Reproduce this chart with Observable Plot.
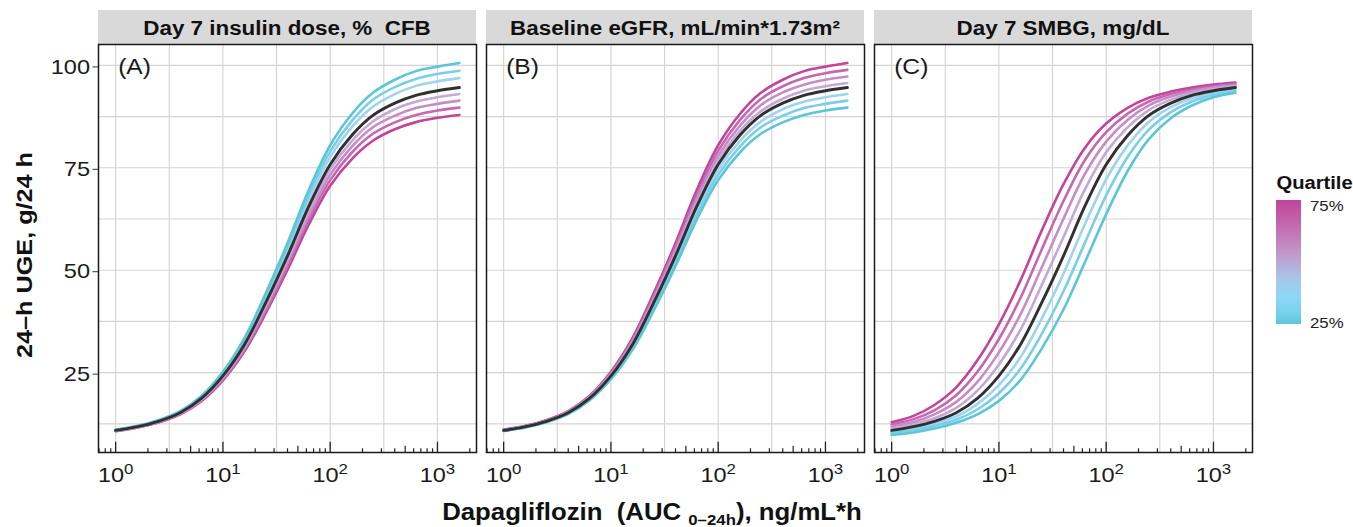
<!DOCTYPE html>
<html><head><meta charset="utf-8">
<script src="https://cdn.jsdelivr.net/npm/d3@7"></script>
<script src="https://cdn.jsdelivr.net/npm/@observablehq/plot@0.6"></script>
<style>
html,body{margin:0;padding:0;background:#fff;}
#chart{position:relative;width:1353px;height:527px;overflow:hidden;}
</style></head><body><div id="chart"></div>
<script>
// ---------------- data ----------------
const panels = ["A", "B", "C"];
const panelTitles = ["Day 7 insulin dose, %  CFB", "Baseline eGFR, mL/min*1.73m\u00B2", "Day 7 SMBG, mg/dL"];
const panelLetters = ["(A)", "(B)", "(C)"];

const auc = [1, 1.6, 2.5, 4, 6.3, 10, 16, 25, 40, 63, 100, 160, 250, 400, 630, 1000, 1600];

const median = [10.9, 11.8, 13.1, 15.2, 18.7, 24.2, 32.0, 42.0, 53.5, 65.5, 75.8, 83.0, 87.8, 90.8, 92.7, 93.8, 94.6];

// Panel A: insulin dose
const A_m4 = [10.7, 11.6, 12.8, 14.8, 18.0, 23.1, 30.3, 39.45, 50.1, 61.1, 70.6, 77.2, 81.6, 84.4, 86.15, 87.2, 87.9];
const A_m3 = [10.75, 11.6, 12.9, 14.9, 18.2, 23.4, 30.7, 40.1, 51.0, 62.3, 72.0, 78.8, 83.3, 86.1, 87.9, 89.0, 89.7];
const A_m2 = [10.8, 11.7, 13.0, 15.0, 18.4, 23.7, 31.2, 40.8, 51.9, 63.4, 73.3, 80.25, 84.9, 87.7, 89.6, 90.6, 91.4];
const A_m1 = [10.85, 11.75, 13.0, 15.1, 18.5, 23.9, 31.6, 41.4, 52.7, 64.4, 74.55, 81.6, 86.3, 89.3, 91.1, 92.2, 93.0];
const A_c1 = [11.0, 11.9, 13.2, 15.35, 18.9, 24.6, 32.6, 42.9, 54.7, 67.0, 77.6, 85.0, 89.9, 93.0, 95.0, 96.1, 96.9];
const A_c2 = [11.0, 11.9, 13.3, 15.5, 19.1, 24.9, 33.1, 43.6, 55.6, 68.2, 79.0, 86.5, 91.6, 94.7, 96.7, 97.9, 98.7];
const A_c3 = [11.1, 12.0, 13.4, 15.6, 19.3, 25.2, 33.6, 44.3, 56.6, 69.5, 80.5, 88.2, 93.3, 96.5, 98.6, 99.7, 100.6];

// Panel B: baseline eGFR
const B_m4 = [11.1, 12.0, 13.4, 15.6, 19.3, 25.2, 33.6, 44.3, 56.6, 69.5, 80.5, 88.2, 93.3, 96.5, 98.6, 99.7, 100.6];
const B_m3 = [11.0, 11.95, 13.3, 15.5, 19.15, 24.9, 33.1, 43.6, 55.7, 68.3, 79.15, 86.7, 91.8, 94.9, 96.9, 98.1, 98.9];
const B_m2 = [11.0, 11.9, 13.2, 15.4, 19.0, 24.7, 32.7, 43.0, 54.9, 67.3, 77.9, 85.3, 90.3, 93.4, 95.3, 96.5, 97.3];
const B_m1 = [10.9, 11.85, 13.15, 15.3, 18.8, 24.4, 32.3, 42.4, 54.1, 66.2, 76.7, 84.0, 88.8, 91.85, 93.8, 94.9, 95.7];
const B_c1 = [10.85, 11.75, 13.0, 15.1, 18.5, 23.9, 31.6, 41.4, 52.7, 64.4, 74.55, 81.6, 86.3, 89.3, 91.1, 92.2, 93.0];
const B_c2 = [10.8, 11.7, 13.0, 15.0, 18.4, 23.7, 31.2, 40.8, 51.9, 63.4, 73.3, 80.25, 84.9, 87.7, 89.6, 90.6, 91.4];
const B_c3 = [10.75, 11.6, 12.9, 14.9, 18.2, 23.4, 30.7, 40.1, 51.0, 62.3, 72.0, 78.8, 83.3, 86.1, 87.9, 89.0, 89.7];

// Panel C: SMBG
const C_m4 = [12.9, 14.45, 17.1, 21.4, 28.0, 36.8, 47.7, 59.6, 71.0, 79.8, 85.8, 89.7, 92.1, 93.6, 94.6, 95.3, 95.8];
const C_m3 = [12.35, 13.65, 15.8, 19.5, 25.2, 33.2, 43.4, 55.0, 66.9, 76.8, 83.7, 88.3, 91.2, 93.0, 94.1, 94.9, 95.5];
const C_m2 = [11.85, 12.95, 14.8, 17.85, 22.75, 29.95, 39.4, 50.6, 62.55, 73.4, 81.4, 86.8, 90.25, 92.4, 93.7, 94.6, 95.2];
const C_m1 = [11.35, 12.35, 13.85, 16.4, 20.6, 27.0, 35.6, 46.3, 58.1, 69.6, 78.8, 85.0, 89.1, 91.65, 93.2, 94.2, 94.9];
const C_c1 = [10.6, 11.4, 12.6, 14.3, 17.3, 21.95, 28.9, 38.1, 49.15, 61.1, 72.2, 80.6, 86.2, 89.8, 92.0, 93.35, 94.25];
const C_c2 = [10.35, 10.95, 12.0, 13.5, 16.0, 19.95, 26.05, 34.4, 44.85, 56.55, 68.25, 77.8, 84.3, 88.6, 91.2, 92.8, 93.8];
const C_c3 = [9.8, 10.4, 11.35, 12.75, 14.8, 18.1, 23.3, 30.8, 40.4, 51.8, 63.7, 74.4, 82.0, 87.1, 90.2, 92.2, 93.3];

const seriesKeys = ["m4", "m3", "m2", "m1", "c1", "c2", "c3"];
const seriesColors = ["#c2449b", "#c567b1", "#c78bc5", "#c5a7d8", "#9fd3f0", "#7acfe8", "#5bc6d7"];

const xTicks = [1, 10, 100, 1000];
const xTickExponents = ["0", "1", "2", "3"];
const xMinorGrid = [3.162, 31.62, 316.2];
const logTicksMajor = [1, 10, 100, 1000];
const logTicksMid = [5, 50, 500];
const logTicksMinor = [0.7, 0.8, 0.9, 2, 3, 4, 6, 7, 8, 9, 20, 30, 40, 60, 70, 80, 90, 200, 300, 400, 600, 700, 800, 900, 2000];
const yTicks = [25, 50, 75, 100];
const yMinorGrid = [12.5, 37.5, 62.5, 87.5];
const legendTitle = "Quartile";
const legendLabels = ["75%", "25%"];

// ---------------- table ----------------
const panelSeries = {
  A: [A_m4, A_m3, A_m2, A_m1, A_c1, A_c2, A_c3],
  B: [B_m4, B_m3, B_m2, B_m1, B_c1, B_c2, B_c3],
  C: [C_m4, C_m3, C_m2, C_m1, C_c1, C_c2, C_c3]
};
const colored = [];
const medianRows = [];
panels.forEach(p => {
  seriesKeys.forEach((s, si) => {
    panelSeries[p][si].forEach((v, i) => colored.push({panel: p, series: s, x: auc[i], y: v}));
  });
  median.forEach((v, i) => medianRows.push({panel: p, x: auc[i], y: v}));
});
const letterRows = panels.map((p, i) => ({panel: p, label: panelLetters[i], x: auc[0], y: d3.max(yTicks)}));

// ---------------- plot ----------------
const FONT = "'Liberation Sans', Arial, Helvetica, sans-serif";
const W = 1353, H = 527, MT = 44, MB = 75, ML = 98, MR = 101;
const frameH = H - MT - MB;
const xDomain = [0.692, 2312];
const yDomain = [5.5, 105.1];

const plot = Plot.plot({
  width: W, height: H,
  marginTop: MT, marginBottom: MB, marginLeft: ML, marginRight: MR,
  style: {fontFamily: FONT, background: "white", color: "#1a1a1a", overflow: "visible"},
  fx: {domain: panels, paddingInner: 10 / 388, paddingOuter: 0, round: false, axis: null, label: null},
  x: {type: "log", domain: xDomain, label: null},
  y: {domain: yDomain, label: null},
  color: {domain: seriesKeys, range: seriesColors},
  marks: [
    Plot.gridX({ticks: [...xTicks, ...xMinorGrid], stroke: "#d3d3d3", strokeOpacity: 1, strokeWidth: 1.1}),
    Plot.gridY({ticks: [...yTicks, ...yMinorGrid], stroke: "#d3d3d3", strokeOpacity: 1, strokeWidth: 1.1}),
    Plot.ruleX(logTicksMinor, {insetTop: frameH - 3.7, stroke: "#222", strokeWidth: 1.2}),
    Plot.ruleX(logTicksMid, {insetTop: frameH - 6.3, stroke: "#222", strokeWidth: 1.2}),
    Plot.ruleX(logTicksMajor, {insetTop: frameH - 10.3, stroke: "#222", strokeWidth: 1.3}),
    Plot.line(colored, {x: "x", y: "y", z: "series", stroke: "series", fx: "panel", strokeWidth: 2.6, curve: "catmull-rom"}),
    Plot.line(medianRows, {x: "x", y: "y", fx: "panel", stroke: "#303030", strokeWidth: 2.9, curve: "catmull-rom"}),
    Plot.text(letterRows, {x: "x", y: "y", fx: "panel", text: "label", textAnchor: "start", dx: 2.5, dy: 2, fontSize: 22, fill: "#1a1a1a"}),
    Plot.frame({stroke: "#1a1a1a", strokeWidth: 1.5}),
    Plot.axisY({ticks: yTicks, anchor: "left", facetAnchor: "left", tickSize: 5.5, tickPadding: 3, fontSize: 21, label: null, stroke: "#333", dy: 1.5}),
    Plot.axisX({ticks: xTicks, anchor: "bottom", tickSize: 0, tickPadding: 14.5, fontSize: 21, label: null,
      tickFormat: d => xTickExponents[xTicks.indexOf(d)]})
  ]
});

document.getElementById("chart").append(plot);
const svg = d3.select(plot);

// superscript tick labels: 10^k
svg.selectAll('g[aria-label="x-axis tick label"] text').each(function () {
  const e = this.textContent;
  const t = d3.select(this);
  t.text("10");
  t.append("tspan").attr("dy", "-8.3").attr("font-size", 15).text(e);
});

// facet strips
const fx = plot.scale("fx");
const stripG = svg.insert("g", ":first-child").attr("aria-label", "strips");
panels.forEach((p, i) => {
  const x0 = fx.apply(p), bw = fx.bandwidth;
  stripG.append("rect").attr("x", x0).attr("y", 10).attr("width", bw).attr("height", MT - 10).attr("fill", "#d9d9d9");
  stripG.append("text").attr("x", x0 + bw / 2).attr("y", 35).attr("text-anchor", "middle")
    .attr("font-weight", "bold").attr("font-size", 20).attr("fill", "#111").style("white-space", "pre").text(panelTitles[i]);
});

// axis titles
svg.append("text").attr("transform", `translate(24,${MT + frameH / 2 + 7}) rotate(-90)`)
  .attr("text-anchor", "middle").attr("dy", "0.35em").attr("font-weight", "bold").attr("font-size", 22.5)
  .attr("fill", "#111").text("24\u2013h UGE, g/24 h");

const xt = svg.append("text").attr("x", 652).attr("y", 520).attr("text-anchor", "middle")
  .attr("font-weight", "bold").attr("font-size", 23).attr("fill", "#111").style("white-space", "pre");
xt.append("tspan").text("Dapagliflozin  (AUC ");
xt.append("tspan").attr("font-size", 15).attr("dy", 5).text("0\u201324h");
xt.append("tspan").attr("dy", -5).text("), ng/mL*h");

// legend
const defs = svg.append("defs");
const grad = defs.append("linearGradient").attr("id", "qgrad").attr("x1", 0).attr("y1", 0).attr("x2", 0).attr("y2", 1);
[[0, "#c2449b"], [0.25, "#c373b4"], [0.45, "#c09ccd"], [0.62, "#a9c4e6"], [0.78, "#8dd7f5"], [0.9, "#79d3ef"], [1, "#5cc7d6"]]
  .forEach(([o, c]) => grad.append("stop").attr("offset", o).attr("stop-color", c));
const lg = svg.append("g").attr("aria-label", "legend").attr("text-anchor", "start");
lg.append("rect").attr("x", 1276).attr("y", 200).attr("width", 25).attr("height", 124).attr("fill", "url(#qgrad)");
lg.append("text").attr("x", 1276.5).attr("y", 188.5).attr("text-anchor", "start").attr("font-weight", "bold").attr("font-size", 18).attr("fill", "#111").text(legendTitle);
lg.append("text").attr("x", 1310).attr("y", 210.5).attr("text-anchor", "start").attr("font-size", 15).attr("fill", "#222").text(legendLabels[0]);
lg.append("text").attr("x", 1310).attr("y", 327.5).attr("text-anchor", "start").attr("font-size", 15).attr("fill", "#222").text(legendLabels[1]);

// widen glyphs slightly to match the reference's type
svg.selectAll("text").each(function () {
  const len = this.getComputedTextLength();
  if (len > 0) {
    this.setAttribute("textLength", (len * 1.12).toFixed(1));
    this.setAttribute("lengthAdjust", "spacingAndGlyphs");
  }
});
</script>
</body></html>
